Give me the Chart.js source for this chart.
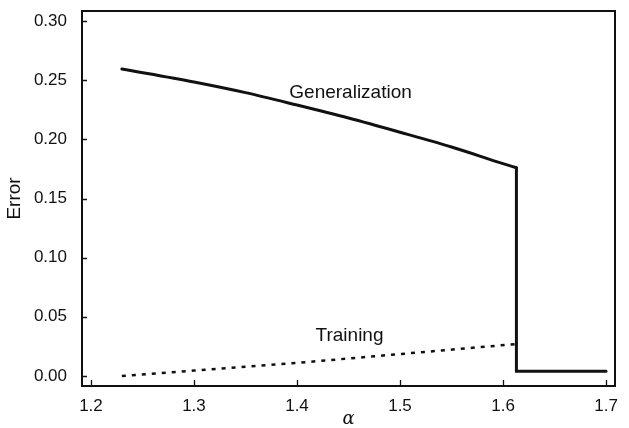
<!DOCTYPE html>
<html>
<head>
<meta charset="utf-8">
<script src="https://cdn.jsdelivr.net/npm/chart.js@4"></script>
<style>
  html, body { margin: 0; padding: 0; background: #fff; }
  #wrap { width: 629px; height: 428px; }
</style>
</head>
<body>
<div id="wrap"><canvas id="errChart" width="629" height="428"></canvas></div>
<script>
// generalization error, smooth branch up to the transition
const alphaGen = [1.23, 1.30, 1.35, 1.40, 1.45, 1.50, 1.55, 1.60, 1.613];
const errGen = [0.2595, 0.2485, 0.2395, 0.229, 0.218, 0.206, 0.1935, 0.1795, 0.176];

// the drop at the transition and the flat part after it
const alphaDrop = [1.613, 1.613, 1.70];
const errDrop = [0.176, 0.004, 0.004];

// training error (dotted), ends at the transition
const alphaTrain = [1.23, 1.30, 1.40, 1.50, 1.613];
const errTrain = [0.000, 0.0045, 0.011, 0.0185, 0.027];

const xTicks = [1.2, 1.3, 1.4, 1.5, 1.6, 1.7];
const yTicks = [0.00, 0.05, 0.10, 0.15, 0.20, 0.25, 0.30];

// curve names written next to the lines
const curveLabels = ['Generalization', 'Training'];
const labelAlpha = [1.452, 1.451];
const labelErr = [0.239, 0.034];

const FONT = '"Liberation Sans", Arial, Helvetica, sans-serif';

const toPoints = (xs, ys) => xs.map((x, i) => ({ x: x, y: ys[i] }));

// box around the plot, inward tick marks and the curve names
const framePlugin = {
  id: 'frame',
  afterDraw(chart) {
    const ctx = chart.ctx;
    const a = chart.chartArea;
    const xs = chart.scales.x;
    const ys = chart.scales.y;
    ctx.save();
    ctx.strokeStyle = '#111';
    ctx.lineWidth = 2;
    ctx.strokeRect(a.left, a.top, a.right - a.left, a.bottom - a.top);

    ctx.lineWidth = 1.3;
    ctx.beginPath();
    xTicks.forEach(v => {
      const px = Math.round(xs.getPixelForValue(v)) + 0.5;
      ctx.moveTo(px, a.bottom);
      ctx.lineTo(px, a.bottom - 6);
    });
    yTicks.forEach(v => {
      const py = Math.round(ys.getPixelForValue(v)) + 0.5;
      ctx.moveTo(a.left, py);
      ctx.lineTo(a.left + 5, py);
    });
    ctx.stroke();

    ctx.fillStyle = '#111';
    ctx.font = '19px ' + FONT;
    ctx.textAlign = 'center';
    ctx.textBaseline = 'middle';
    curveLabels.forEach((t, i) => {
      ctx.fillText(t, xs.getPixelForValue(labelAlpha[i]), ys.getPixelForValue(labelErr[i]));
    });
    ctx.restore();
  }
};

new Chart(document.getElementById('errChart'), {
  type: 'line',
  data: {
    datasets: [
      {
        label: 'Generalization',
        data: toPoints(alphaGen, errGen),
        borderColor: '#111',
        borderWidth: 3,
        pointRadius: 0,
        cubicInterpolationMode: 'monotone',
        borderCapStyle: 'round'
      },
      {
        label: 'Generalization (drop)',
        data: toPoints(alphaDrop, errDrop),
        borderColor: '#111',
        borderWidth: 3,
        pointRadius: 0,
        tension: 0,
        borderJoinStyle: 'miter',
        borderCapStyle: 'round'
      },
      {
        label: 'Training',
        data: toPoints(alphaTrain, errTrain),
        borderColor: '#111',
        borderWidth: 2.5,
        borderDash: [4, 6],
        pointRadius: 0,
        tension: 0
      }
    ]
  },
  options: {
    responsive: false,
    animation: false,
    layout: { padding: { top: 11, right: 14, left: 0, bottom: 0 } },
    plugins: {
      legend: { display: false },
      tooltip: { enabled: false }
    },
    scales: {
      x: {
        type: 'linear',
        min: 1.1913,
        max: 1.7087,
        afterBuildTicks: s => { s.ticks = xTicks.map(v => ({ value: v })); },
        afterFit: s => { s.height = 42; s.paddingLeft = 0; s.paddingRight = 0; },
        grid: { display: false, drawTicks: false },
        border: { display: false },
        ticks: {
          padding: 10,
          color: '#111',
          font: { family: FONT, size: 17 },
          callback: v => v.toFixed(1)
        },
        title: {
          display: true,
          text: 'α',
          color: '#111',
          padding: 0,
          font: { family: '"DejaVu Serif", serif', size: 18, style: 'italic', lineHeight: 1 }
        }
      },
      y: {
        min: -0.0085,
        max: 0.3085,
        afterBuildTicks: s => { s.ticks = yTicks.map(v => ({ value: v })); },
        afterFit: s => { s.width = 82; s.paddingTop = 0; s.paddingBottom = 0; },
        grid: { display: false, drawTicks: false },
        border: { display: false },
        ticks: {
          padding: 15,
          color: '#111',
          font: { family: FONT, size: 17 },
          callback: v => v.toFixed(2)
        },
        title: {
          display: true,
          text: 'Error',
          color: '#111',
          padding: { top: 3, bottom: 0 },
          font: { family: FONT, size: 19, lineHeight: 1.2 }
        }
      }
    }
  },
  plugins: [framePlugin]
});
</script>
</body>
</html>
